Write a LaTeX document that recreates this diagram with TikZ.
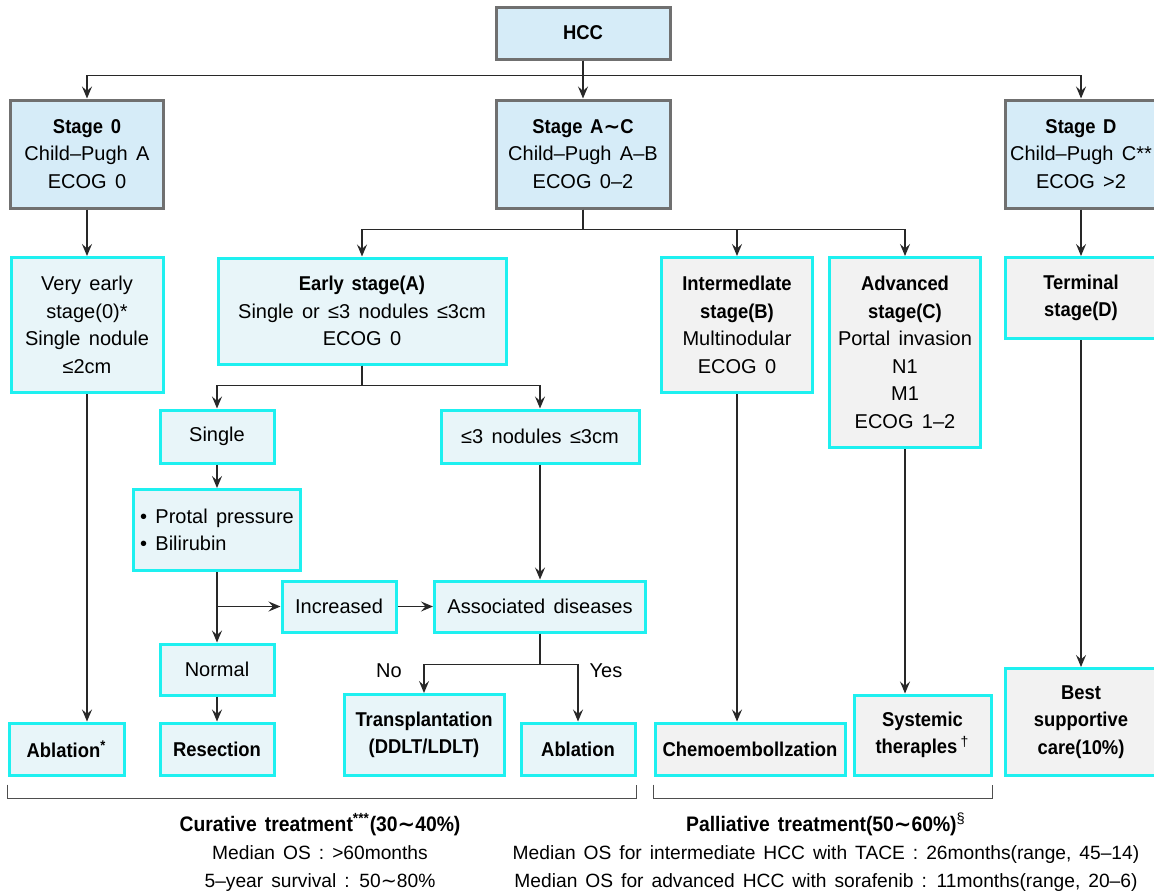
\documentclass[tikz,border=0pt]{standalone}
\usepackage{fontspec}
\setmainfont{Liberation Sans}[WordSpace=1.5, BoldFeatures={FakeStretch=0.92}]
\newfontfamily\symfont{DejaVu Sans}
\newcommand\tld{{\symfont\char"223C}}
\usetikzlibrary{arrows.meta,positioning}

\definecolor{stagefill}{RGB}{214,236,248}
\definecolor{stageline}{RGB}{112,112,112}
\definecolor{curefill}{RGB}{232,245,249}
\definecolor{palfill}{RGB}{242,242,242}
\definecolor{cyanline}{RGB}{30,240,240}
\definecolor{linkcol}{RGB}{40,40,40}

\tikzset{
    box/.style={draw, line width=1.5pt, inner sep=0pt, align=center,
                font=\fontsize{10}{13.75}\selectfont},
    stagebox/.style={box, draw=stageline, fill=stagefill},
    curebox/.style={box, draw=cyanline, fill=curefill},
    palbox/.style={box, draw=cyanline, fill=palfill},
    link/.style={draw=linkcol, line width=0.7pt},
    bracket/.style={draw=stageline!70!black, line width=0.9pt},
    lbl/.style={font=\fontsize{10}{12}\selectfont},
    note/.style={align=center, inner sep=0pt, font=\fontsize{9.6}{14}\selectfont},
}
\newcommand\notehead[1]{{\fontsize{10.5}{14}\selectfont\bfseries #1}}

\begin{document}
\begin{tikzpicture}[x=0.5pt, y=-0.5pt, >={Stealth[length=6pt,width=5pt,inset=2.2pt]}]
    \useasboundingbox (0,0) rectangle (1154,894);

    % Stages
    \node [stagebox, minimum width=87pt,   minimum height=26pt] (HCC)      at (583,33)   {\textbf{HCC}};
    \node [stagebox, minimum width=76.5pt, minimum height=54pt] (Stage0)   at (87,154)   {\textbf{Stage 0}\\Child–Pugh A\\ECOG 0};
    \node [stagebox, minimum width=87pt,   minimum height=54pt] (StageAC)  at (583,154)  {\textbf{Stage A\tld C}\\Child–Pugh A–B\\ECOG 0–2};
    \node [stagebox, minimum width=76pt,   minimum height=54pt] (StageD)   at (1081,154) {\textbf{Stage D}\\Child–Pugh C**\\ECOG >2};

    % Sub stages
    \node [curebox, minimum width=76pt,   minimum height=67.5pt] (VeryEarly) at (87,325)  {Very early\\stage(0)*\\Single nodule\\≤2cm};
    \node [curebox, minimum width=144pt,  minimum height=53pt]   (EarlyA)    at (362,311)   {\textbf{Early stage(A)}\\Single or ≤3 nodules ≤3cm\\ECOG 0};
    \node [palbox,  minimum width=75.5pt, minimum height=67.5pt] (InterB)    at (737,325) {\textbf{Intermedlate}\\\textbf{stage(B)}\\Multinodular\\ECOG 0};
    \node [palbox,  minimum width=75.5pt, minimum height=95pt]   (AdvC)      at (905,352.5)   {\textbf{Advanced}\\\textbf{stage(C)}\\Portal invasion\\N1\\M1\\ECOG 1–2};
    \node [palbox,  minimum width=76pt,   minimum height=40.5pt] (Terminal)  at (1081,298) {\textbf{Terminal}\\\textbf{stage(D)}};

    % Early stage branch
    \node [curebox, minimum width=57pt,   minimum height=26.5pt] (Single)    at (217,436.5) {Single};
    \node [curebox, minimum width=99pt,   minimum height=26.5pt] (Nodules)   at (540,436.5) {≤3 nodules ≤3cm};
    \node [curebox, minimum width=83.5pt, minimum height=40.5pt, align=left]
                                                                 (Protal)    at (217,530) {• Protal pressure\\• Bilirubin};
    \node [curebox, minimum width=57pt,   minimum height=25.5pt] (Increased) at (339,606.5) {Increased};
    \node [curebox, minimum width=105.5pt, minimum height=25.5pt] (Assoc)    at (540,606.5) {Associated diseases};
    \node [curebox, minimum width=57pt,   minimum height=25.5pt] (Normal)    at (217,669.5) {Normal};

    % Treatments
    \node [curebox, minimum width=57.5pt, minimum height=26pt]   (Abl1)      at (66.5,749)  {\textbf{Ablation\textsuperscript{*}}};
    \node [curebox, minimum width=57pt,   minimum height=26pt]   (Resection) at (217,749)   {\textbf{Resection}};
    \node [curebox, minimum width=80pt,   minimum height=40.5pt] (Transp)    at (424,735) {\textbf{Transplantation}\\\textbf{(DDLT/LDLT)}};
    \node [curebox, minimum width=57pt,   minimum height=26pt]   (Abl2)      at (578,749)   {\textbf{Ablation}};
    \node [palbox,  minimum width=95pt,   minimum height=26pt]   (Chemo)     at (750,749)   {\textbf{Chemoembollzation}};
    \node [palbox,  minimum width=68.5pt, minimum height=40pt]   (Sys)       at (922.5,735) {\textbf{Systemic}\\\textbf{theraples\,\textsuperscript{\mdseries†}}};
    \node [palbox,  minimum width=76pt,   minimum height=53.5pt] (Best)      at (1081,722) {\textbf{Best}\\\textbf{supportive}\\\textbf{care(10\%)}};

    \node [lbl] (no)  at (389,671) {No};
    \node [lbl] (yes) at (606,671) {Yes};

    % Paths
    \draw [->, link] (HCC) -- (StageAC);
    \draw [->, link] (HCC.south) -- ++(0,15) -| (Stage0.north);
    \draw [->, link] (HCC.south) -- ++(0,15) -| (StageD.north);
    \draw [->, link] (Stage0) -- (VeryEarly);
    \draw [->, link] (StageAC.south) -- ++(0,20) -| (EarlyA.north);
    \draw [->, link] (StageAC.south) -- ++(0,20) -| (InterB.north);
    \draw [->, link] (StageAC.south) -- ++(0,20) -| (AdvC.north);
    \draw [->, link] (StageD) -- (Terminal);
    \draw [->, link] (EarlyA.south) -- ++(0,20) -| (Single.north);
    \draw [->, link] (EarlyA.south) -- ++(0,20) -| (Nodules.north);
    \draw [->, link] (Single) -- (Protal);
    \draw [->, link] (Protal) -- (Normal);
    \draw [->, link] (Protal.south |- Increased) -- (Increased);
    \draw [->, link] (Increased) -- (Assoc);
    \draw [->, link] (Nodules) -- (Assoc);
    \draw [->, link] (Normal) -- (Resection);
    \draw [->, link] (Assoc.south) -- ++(0,31) -| (Transp.north);
    \draw [->, link] (Assoc.south) -- ++(0,31) -| (Abl2.north);
    \draw [->, link] (VeryEarly) -- (VeryEarly |- Abl1.north);
    \draw [->, link] (InterB) -- (InterB |- Chemo.north);
    \draw [->, link] (AdvC) -- (AdvC |- Sys.north);
    \draw [->, link] (Terminal) -- (Best);

    % Brackets and summaries
    \draw [bracket] ([yshift=-4pt]Abl1.south west) -- ++(0,14) -| ([yshift=-4pt]Abl2.south east);
    \draw [bracket] ([yshift=-4pt]Chemo.south west) -- ++(0,14) -| ([yshift=-4pt]Sys.south east);

    \node [note] (cure)  at (320,852) {\notehead{Curative treatment\textsuperscript{***}(30\tld 40\%)}\\Median OS : >60months\\5–year survival : 50\tld 80\%};
    \node [note] (palli) at (826,852) {\notehead{Palliative treatment(50\tld 60\%)\textsuperscript{\mdseries§}}\\Median OS for intermediate HCC with TACE : 26months(range, 45–14)\\Median OS for advanced HCC with sorafenib : 11months(range, 20–6)};
\end{tikzpicture}
\end{document}
